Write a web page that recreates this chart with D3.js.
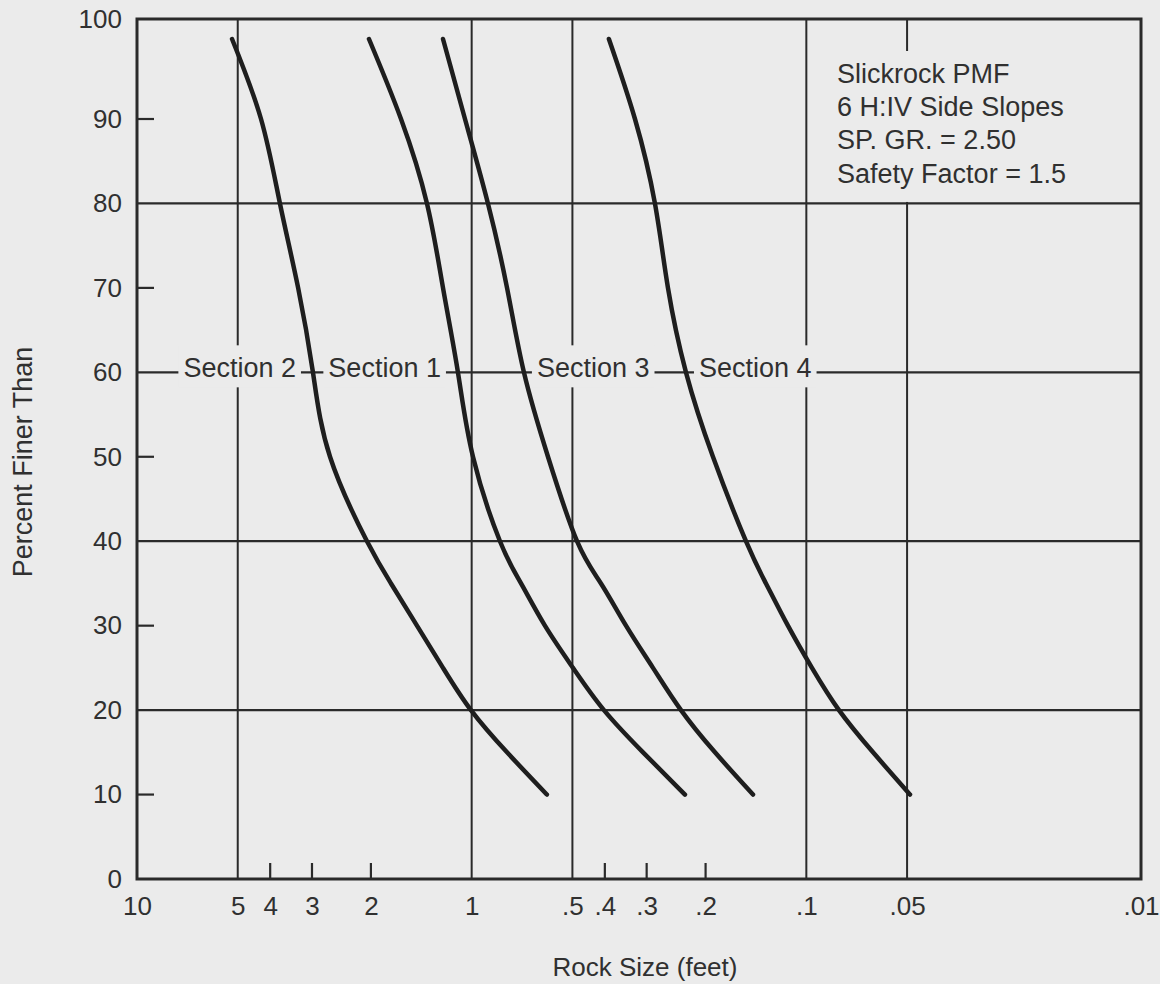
<!DOCTYPE html>
<html>
<head>
<meta charset="utf-8">
<script src="https://cdn.jsdelivr.net/npm/d3@7"></script>
<style>
  html, body { margin: 0; padding: 0; background: #ebebeb; }
  svg { display: block; }
  text { font-family: "Liberation Sans", Arial, Helvetica, sans-serif; fill: #303030; }
</style>
</head>
<body>
<div id="app"></div>
<script>
// rock size axis (feet), log scale running from 10 down to .01
const sizeTicks = [10, 5, 4, 3, 2, 1, .5, .4, .3, .2, .1, .05, .01];
const sizeGrid = [5, 1, .5, .1, .05];
const sizeMinor = [4, 3, 2, .4, .3, .2];

// percent finer than axis
const pctTicks = [0, 10, 20, 30, 40, 50, 60, 70, 80, 90, 100];
const pctGrid = [20, 40, 60, 80];
const pctMinor = [10, 30, 50, 70, 90];

// gradation curves, rock size (feet) read at each percent level
const pctLevels = [98, 90, 80, 70, 60, 50, 40, 35, 30, 25, 20, 15, 10];
const section2 = [5.2, 4.26, 3.74, 3.3, 2.98, 2.65, 2.055, 1.742, 1.457, 1.218, 1.005, 0.784, 0.596];
const section1 = [2.027, 1.626, 1.36, 1.218, 1.099, 0.991, 0.823, 0.712, 0.604, 0.498, 0.4025, 0.3076, 0.2305];
const section3 = [1.218, 1.047, 0.894, 0.784, 0.698, 0.5915, 0.4844, 0.4108, 0.3458, 0.2872, 0.2369, 0.1875, 0.1443];
const section4 = [0.389, 0.3251, 0.2834, 0.2591, 0.2289, 0.1901, 0.1515, 0.132, 0.1135, 0.0962, 0.0799, 0.0632, 0.049];

const sectionNames = ["Section 2", "Section 1", "Section 3", "Section 4"];
const sectionValues = [section2, section1, section3, section4];
const labelSide = ["left", "left", "right", "right"];
const labelPct = 60;

const noteLines = ["Slickrock PMF", "6 H:IV Side Slopes", "SP. GR. = 2.50", "Safety Factor = 1.5"];

const width = 1160, height = 984;
const plotLeft = 137, plotRight = 1141, plotTop = 19, plotBottom = 879;
const ink = "#2a2a2a";
const paper = "#ebebeb";

const svg = d3.select("#app").append("svg")
    .attr("width", width)
    .attr("height", height);

svg.append("rect")
    .attr("width", width)
    .attr("height", height)
    .attr("fill", paper);

const x = d3.scaleLog()
    .domain([10, .01])
    .range([plotLeft, plotRight]);

// the scanned sheet has a slightly taller top band (90-100)
const y = d3.scaleLinear()
    .domain([0, 90, 100])
    .range([plotBottom, 119, plotTop]);

const fmt = v => v >= 1 ? String(v) : String(v).replace(/^0/, "");

// grid
const grid = svg.append("g").attr("stroke", ink);

grid.selectAll(".hgrid")
    .data(pctGrid)
    .enter()
    .append("line")
    .attr("x1", plotLeft).attr("x2", plotRight)
    .attr("y1", d => y(d)).attr("y2", d => y(d))
    .attr("stroke-width", 2.2);

grid.selectAll(".vgrid")
    .data(sizeGrid)
    .enter()
    .append("line")
    .attr("x1", d => x(d)).attr("x2", d => x(d))
    .attr("y1", plotTop).attr("y2", plotBottom)
    .attr("stroke-width", 2);

grid.selectAll(".ytick")
    .data(pctMinor)
    .enter()
    .append("line")
    .attr("x1", plotLeft).attr("x2", plotLeft + 17)
    .attr("y1", d => y(d)).attr("y2", d => y(d))
    .attr("stroke-width", 2.2);

grid.selectAll(".xtick")
    .data(sizeMinor)
    .enter()
    .append("line")
    .attr("x1", d => x(d)).attr("x2", d => x(d))
    .attr("y1", plotBottom).attr("y2", plotBottom - 16)
    .attr("stroke-width", 2.2);

// note block, its backing breaks the .05 line
const note = svg.append("g");
const noteBg = note.append("rect").attr("fill", paper);
const noteText = note.append("g");
noteText.selectAll("text")
    .data(noteLines)
    .enter()
    .append("text")
    .attr("x", x(.05) - 70)
    .attr("y", (d, i) => plotTop + 64 + i * 33.2)
    .attr("font-size", 27)
    .text(d => d);

const nb = noteText.node().getBBox();
noteBg
    .attr("x", nb.x - 8)
    .attr("y", nb.y - 8)
    .attr("width", nb.width + 16)
    .attr("height", y(80) - 1.5 - (nb.y - 8));

// section labels on the 60 line
const labels = svg.append("g");
sectionNames.forEach((name, i) => {
    const at = x(sectionValues[i][pctLevels.indexOf(labelPct)]);
    const g = labels.append("g");
    const bg = g.append("rect").attr("fill", paper);
    const t = g.append("text")
        .attr("x", labelSide[i] == "left" ? at - 17 : at + 13)
        .attr("y", y(labelPct) + 5)
        .attr("text-anchor", labelSide[i] == "left" ? "end" : "start")
        .attr("font-size", 27)
        .text(name);
    const b = t.node().getBBox();
    bg.attr("x", b.x - 5)
        .attr("y", b.y - 8)
        .attr("width", b.width + 10)
        .attr("height", b.height + 12);
});

// frame
svg.append("rect")
    .attr("x", plotLeft).attr("y", plotTop)
    .attr("width", plotRight - plotLeft).attr("height", plotBottom - plotTop)
    .attr("fill", "none")
    .attr("stroke", ink)
    .attr("stroke-width", 3);

// curves
const line = d3.line()
    .x(d => x(d[0]))
    .y(d => y(d[1]))
    .curve(d3.curveNatural);

svg.append("g")
    .selectAll("path")
    .data(sectionValues)
    .enter()
    .append("path")
    .attr("d", vals => line(vals.map((v, i) => [v, pctLevels[i]])))
    .attr("fill", "none")
    .attr("stroke", "#1e1e1e")
    .attr("stroke-width", 4.5)
    .attr("stroke-linecap", "round");

// axes
const yAxis = svg.append("g")
    .attr("transform", `translate(${plotLeft},0)`)
    .call(d3.axisLeft(y).tickValues(pctTicks).tickSize(0).tickPadding(15));

const xAxis = svg.append("g")
    .attr("transform", `translate(0,${plotBottom})`)
    .call(d3.axisBottom(x).tickValues(sizeTicks).tickFormat(fmt).tickSize(0).tickPadding(18));

[yAxis, xAxis].forEach(a => {
    a.attr("font-family", null);
    a.select(".domain").remove();
    a.selectAll("text")
        .attr("font-size", 26)
        .attr("fill", "#303030");
});

svg.append("text")
    .attr("x", (plotLeft + plotRight) / 2 + 6)
    .attr("y", 976)
    .attr("text-anchor", "middle")
    .attr("font-size", 26)
    .text("Rock Size (feet)");

svg.append("text")
    .attr("transform", "translate(32,462) rotate(-90)")
    .attr("text-anchor", "middle")
    .attr("font-size", 27)
    .text("Percent Finer Than");
</script>
</body>
</html>
